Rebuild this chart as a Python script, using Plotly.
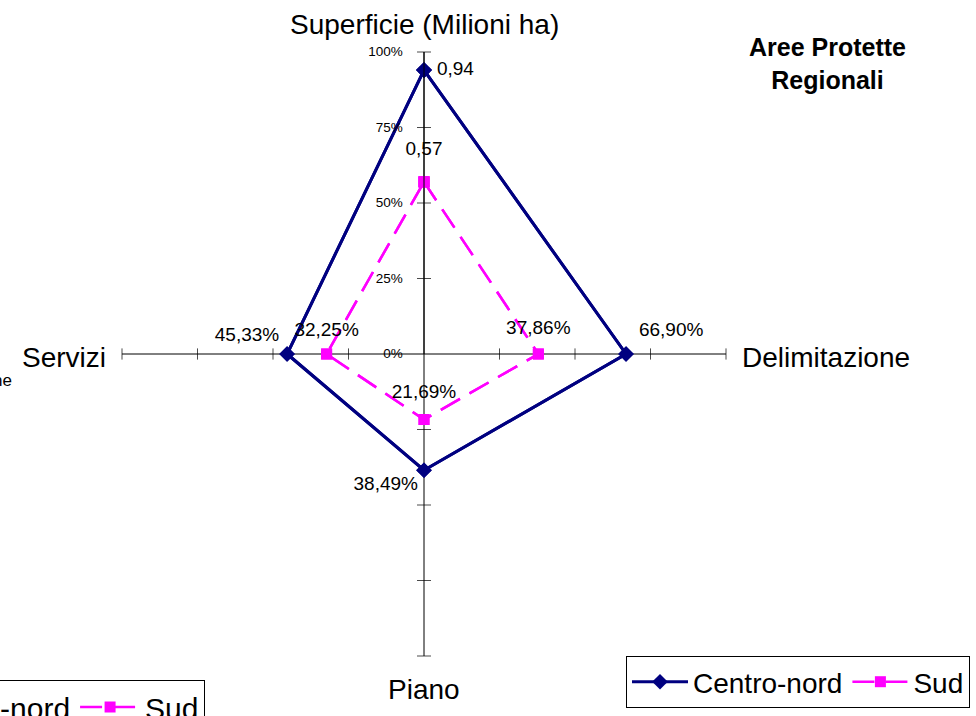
import plotly.graph_objects as go

# ---------------- data ----------------
CATEGORIES = ["Superficie (Milioni ha)", "Delimitazione", "Piano", "Servizi"]
AXIS_TITLES = ["Superficie (Milioni ha)", "Delimitazione", "Piano", "Servizi"]
SERIES_NAMES = ["Centro-nord", "Sud"]
CENTRO_NORD = [0.94, 0.669, 0.3849, 0.4533]
SUD = [0.57, 0.3786, 0.2169, 0.3225]
CENTRO_NORD_LABELS = ["0,94", "66,90%", "38,49%", "45,33%"]
SUD_LABELS = ["0,57", "37,86%", "21,69%", "32,25%"]
RADIAL_TICKS = [0, 0.25, 0.5, 0.75, 1.0]
RADIAL_TICK_LABELS = ["0%", "25%", "50%", "75%", "100%"]
TITLE = "Aree Protette<br>Regionali"
CLIPPED_TEXT = "ne"

FONT = "Liberation Sans, Arial, sans-serif"
NAVY = "#000080"
MAGENTA = "#FF00FF"


def closed(vals):
    return list(vals) + [vals[0]]


fig = go.Figure()

# tick marks on every spoke (crossing ticks like Excel)
tick_r, tick_theta, tick_sym, tick_size = [], [], [], []
for i, cat in enumerate(CATEGORIES):
    vertical = i % 2 == 0
    for t in RADIAL_TICKS[1:]:
        tick_r.append(t)
        tick_theta.append(cat)
        tick_sym.append("line-ew" if vertical else "line-ns")
        tick_size.append(10 if vertical else 8)
fig.add_trace(go.Scatterpolar(
    r=tick_r, theta=tick_theta, mode="markers", showlegend=False, hoverinfo="skip",
    marker=dict(symbol=tick_sym, size=tick_size, color="black",
                line=dict(width=1, color="black")),
    cliponaxis=False,
))

series = [
    (SERIES_NAMES[0], CENTRO_NORD, dict(color=NAVY, width=3),
     dict(symbol="diamond", size=12, color=NAVY, line=dict(width=0))),
    (SERIES_NAMES[1], SUD, dict(color=MAGENTA, width=2.5, dash="22px,11px"),
     dict(symbol="square", size=11, color=MAGENTA, line=dict(width=0))),
]

for legend_id in ["legend", "legend2"]:
    for name, vals, line, marker in series:
        fig.add_trace(go.Scatterpolar(
            r=closed(vals), theta=closed(CATEGORIES), mode="lines+markers",
            name=name, line=line, marker=marker, legend=legend_id,
            cliponaxis=False, hoverinfo="skip",
        ))

# data labels (invisible markers only set the label offset)
fig.add_trace(go.Scatterpolar(
    r=CENTRO_NORD, theta=CATEGORIES, mode="markers+text", text=CENTRO_NORD_LABELS,
    textposition=["middle right", "top right", "bottom left", "top left"],
    marker=dict(size=[19, 19, 8, 11], color="rgba(0,0,0,0)", opacity=0,
                line=dict(width=0, color="rgba(0,0,0,0)")),
    textfont=dict(size=19, color="black", family=FONT),
    showlegend=False, hoverinfo="skip", cliponaxis=False,
))
fig.add_trace(go.Scatterpolar(
    r=SUD, theta=CATEGORIES, mode="markers+text", text=SUD_LABELS,
    textposition=["top center", "top center", "top center", "top center"],
    marker=dict(size=[34, 23, 26, 20], color="rgba(0,0,0,0)", opacity=0,
                line=dict(width=0, color="rgba(0,0,0,0)")),
    textfont=dict(size=19, color="black", family=FONT),
    showlegend=False, hoverinfo="skip", cliponaxis=False,
))

W, H = 976, 716
cx, cy, rad = 424, 354, 302

fig.update_layout(
    width=W, height=H,
    margin=dict(l=0, r=0, t=0, b=0, autoexpand=False),
    paper_bgcolor="white", plot_bgcolor="white",
    font=dict(family=FONT, color="black"),
    polar=dict(
        domain=dict(x=[(cx - rad) / W, (cx + rad) / W],
                    y=[1 - (cy + rad) / H, 1 - (cy - rad) / H]),
        bgcolor="white",
        angularaxis=dict(
            type="category", categoryorder="array", categoryarray=CATEGORIES,
            direction="clockwise", rotation=90,
            showticklabels=False, ticks="", showline=False,
            showgrid=True, gridcolor="black", gridwidth=1,
        ),
        radialaxis=dict(
            range=[0, 1], angle=90, side="counterclockwise", tickangle=90,
            showline=True, linecolor="black", linewidth=1,
            showgrid=False, tickvals=RADIAL_TICKS, ticktext=RADIAL_TICK_LABELS,
            tickfont=dict(size=13.5, color="black", family=FONT),
            ticks="outside", ticklen=16, tickcolor="rgba(0,0,0,0)",
        ),
    ),
    legend=dict(
        orientation="h", x=626 / W, y=1 - 656 / H, xanchor="left", yanchor="top",
        bordercolor="black", borderwidth=1, bgcolor="white", itemwidth=56,
        font=dict(size=28, family=FONT, color="black"),
    ),
    legend2=dict(
        orientation="h", x=205 / W, y=1 - 680 / H, xanchor="right", yanchor="top",
        bordercolor="black", borderwidth=1, bgcolor="white", itemwidth=60,
        font=dict(size=30, family=FONT, color="black"),
    ),
    annotations=[
        dict(text=AXIS_TITLES[0], x=cx / W, y=1 - 25 / H, xref="paper", yref="paper",
             xanchor="center", yanchor="middle", showarrow=False, font=dict(size=28)),
        dict(text=AXIS_TITLES[1], x=740 / W, y=1 - 357 / H, xref="paper", yref="paper",
             xanchor="left", yanchor="middle", showarrow=False, font=dict(size=28)),
        dict(text=AXIS_TITLES[2], x=cx / W, y=1 - 689 / H, xref="paper", yref="paper",
             xanchor="center", yanchor="middle", showarrow=False, font=dict(size=28)),
        dict(text=AXIS_TITLES[3], x=108 / W, y=1 - 357 / H, xref="paper", yref="paper",
             xanchor="right", yanchor="middle", showarrow=False, font=dict(size=28)),
        dict(text="<b>" + TITLE + "</b>", x=827 / W, y=1 - 63 / H, xref="paper", yref="paper",
             xanchor="center", yanchor="middle", showarrow=False, font=dict(size=25)),
        dict(text=CLIPPED_TEXT, x=14 / W, y=1 - 380 / H, xref="paper", yref="paper",
             xanchor="right", yanchor="middle", showarrow=False, font=dict(size=17)),
    ],
)

fig.write_html("out.html", config={"displayModeBar": False},
               post_script="document.body.style.margin='0';")
